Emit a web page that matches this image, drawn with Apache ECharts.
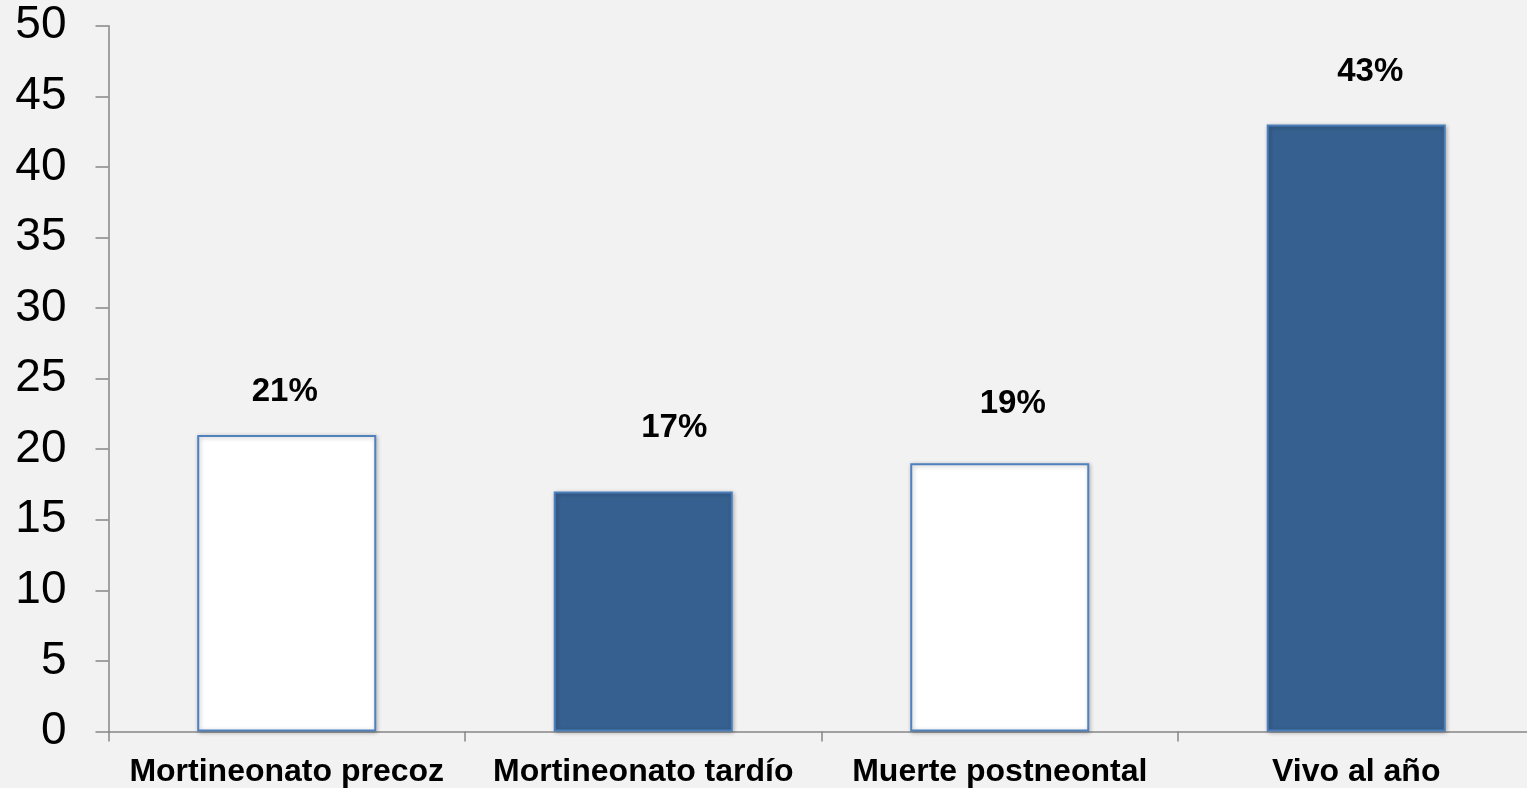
<!DOCTYPE html>
<html>
<head>
<meta charset="utf-8">
<script src="https://cdn.jsdelivr.net/npm/echarts@6/dist/echarts.min.js"></script>
<style>
  html, body { margin: 0; padding: 0; background: #f2f2f2; }
  #chart { width: 1527px; height: 788px; }
</style>
</head>
<body>
<div id="chart"></div>
<script>
const categories = ['Mortineonato precoz', 'Mortineonato tardío', 'Muerte postneontal', 'Vivo al año']
const values = [21, 17, 19, 43]
const valueLabels = ['21%', '17%', '19%', '43%']
const yTicks = [0, 5, 10, 15, 20, 25, 30, 35, 40, 45, 50]

// label placement in the original is a bit uneven, keep that
const labelShift = [[-2, -27], [31, -47], [13, -43], [14, -36]]
const darkBar = { color: '#36608f', borderColor: '#4a7ebb' }
const lightBar = { color: '#ffffff', borderColor: '#4f81bd' }

const chart = echarts.init(document.getElementById('chart'))

chart.setOption({
  backgroundColor: '#f2f2f2',
  animation: false,
  grid: { left: 108.5, top: 25.7, bottom: 56.5, width: 1426, outerBoundsMode: 'none', containLabel: false },
  xAxis: {
    type: 'category',
    data: categories,
    axisLine: { lineStyle: { color: '#868686', width: 1.5 } },
    axisTick: { show: true, length: 10, lineStyle: { color: '#868686', width: 1.5 } },
    axisLabel: {
      color: '#000',
      fontFamily: 'Liberation Sans, Arial, sans-serif',
      fontWeight: 'bold',
      fontSize: 32,
      margin: 25,
      interval: 0,
    },
  },
  yAxis: {
    type: 'value',
    min: yTicks[0],
    max: yTicks[yTicks.length - 1],
    interval: 5,
    axisLine: { show: true, lineStyle: { color: '#868686', width: 1.5 } },
    axisTick: { show: true, length: 13, lineStyle: { color: '#868686', width: 1.5 } },
    splitLine: { show: false },
    axisLabel: {
      color: '#000',
      fontFamily: 'Liberation Sans, Arial, sans-serif',
      fontSize: 46,
      margin: 42,
    },
  },
  series: [
    {
      type: 'bar',
      barWidth: 179,
      data: values.map((v, i) => ({
        value: v,
        itemStyle: Object.assign({
          borderWidth: 2,
          shadowBlur: 4,
          shadowColor: 'rgba(0,0,0,0.25)',
          shadowOffsetX: 1,
          shadowOffsetY: 1,
        }, i % 2 === 0 ? lightBar : darkBar),
        label: {
          show: true,
          position: 'top',
          distance: 0,
          offset: labelShift[i],
          formatter: valueLabels[i],
          color: '#000',
          fontFamily: 'Liberation Sans, Arial, sans-serif',
          fontWeight: 'bold',
          fontSize: 33,
        },
      })),
    },
  ],
})
</script>
</body>
</html>
